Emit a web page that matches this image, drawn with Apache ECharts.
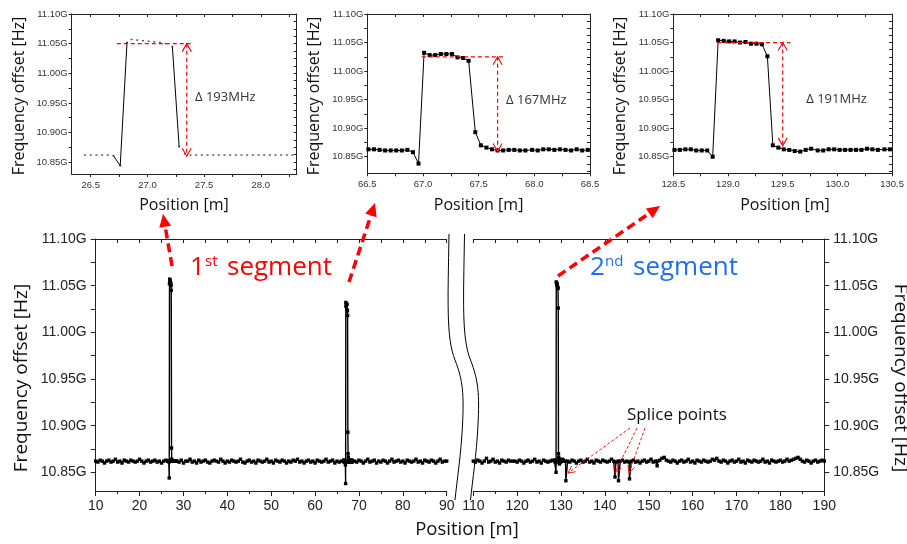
<!DOCTYPE html>
<html><head><meta charset="utf-8">
<script src="https://cdn.jsdelivr.net/npm/echarts@6/dist/echarts.min.js"></script>
<style>html,body{margin:0;padding:0;background:#fff}#c{width:907px;height:544px}</style>
</head><body><div id="c"></div><script>
// ---------------- DATA ----------------
// baseline runs of the main chart (GHz)
const base1Pos = [10,10.5,11,11.5,12,12.5,13,13.5,14,14.5,15,15.5,16,16.5,17,17.5,18,18.5,19,19.5,20,20.5,21,21.5,22,22.5,23,23.5,24,24.5,25,25.5,26];
const base1Val = [10.862,10.861,10.863,10.862,10.860,10.862,10.863,10.861,10.862,10.864,10.861,10.862,10.860,10.863,10.862,10.861,10.863,10.862,10.861,10.862,10.864,10.862,10.860,10.862,10.863,10.861,10.862,10.863,10.861,10.862,10.860,10.862,10.863];
const base2Pos = [28.5,29,29.5,30,30.5,31,31.5,32,32.5,33,33.5,34,34.5,35,35.5,36,36.5,37,37.5,38,38.5,39,39.5,40,40.5,41,41.5,42,42.5,43,43.5,44,44.5,45,45.5,46,46.5,47,47.5,48,48.5,49,49.5,50,50.5,51,51.5,52,52.5,53,53.5,54,54.5,55,55.5,56,56.5,57,57.5,58,58.5,59,59.5,60,60.5,61,61.5,62,62.5,63,63.5,64,64.5,65,65.5,66];
const base2Val = [10.862,10.861,10.863,10.860,10.862,10.862,10.864,10.861,10.862,10.860,10.863,10.861,10.862,10.863,10.861,10.860,10.862,10.863,10.862,10.861,
 10.864,10.862,10.860,10.862,10.861,10.863,10.862,10.861,10.862,10.864,10.861,10.860,10.862,10.863,10.861,10.862,10.860,10.863,10.862,10.861,
 10.862,10.864,10.861,10.862,10.860,10.863,10.862,10.861,10.863,10.862,10.860,10.862,10.861,10.863,10.862,10.864,10.861,10.862,10.860,10.862,
 10.863,10.861,10.862,10.860,10.863,10.862,10.861,10.862,10.864,10.861,10.862,10.863,10.860,10.862,10.861,10.862];
const base3Pos = [69,69.5,70,70.5,71,71.5,72,72.5,73,73.5,74,74.5,75,75.5,76,76.5,77,77.5,78,78.5,79,79.5,80,80.5,81,81.5,82,82.5,83,83.5,84,84.5,85,85.5,86,86.5,87,87.5,88,88.5,89,89.5,90];
const base3Val = [10.862,10.861,10.863,10.862,10.860,10.862,10.864,10.861,10.862,10.863,10.860,10.862,10.861,10.863,10.862,10.860,10.862,10.864,10.861,10.862,
 10.863,10.861,10.862,10.860,10.863,10.862,10.861,10.862,10.864,10.861,10.862,10.860,10.863,10.862,10.861,10.863,10.862,10.860,10.862,10.864,
 10.861,10.862,10.862];
const base4Pos = [110,110.5,111,111.5,112,112.5,113,113.5,114,114.5,115,115.5,116,116.5,117,117.5,118,118.5,119,119.5,120,120.5,121,121.5,122,122.5,123,123.5,124,124.5,125,125.5,126,126.5,127,127.5,128];
const base4Val = [10.862,10.861,10.863,10.862,10.860,10.862,10.865,10.861,10.862,10.864,10.861,10.862,10.860,10.863,10.862,10.861,10.863,10.862,10.862,10.862,
 10.861,10.863,10.862,10.860,10.862,10.863,10.861,10.862,10.864,10.861,10.862,10.860,10.863,10.862,10.861,10.862,10.863];
const base5Pos = [131,131.1,131.5,132,132.5,133,133.5,134,134.5,135,135.5,136,136.5,137,137.5,138,138.5,139,139.5,140,140.5,141,141.5,142,142.3,142.5,143,143.1,143.5,144,144.5,145,145.5,145.6,
 146,146.5,147,147.5,148,148.5,149,149.5,150,150.5,151,151.5,151.9,152,152.5,153,153.5,154,154.5,155,155.5,156,156.5,157,157.5,158,158.5,159,159.5,160,160.5,161,161.5,162,162.5,163,163.5,164,164.5,165,165.5,
 166,166.5,167,167.5,168,168.5,169,169.5,170,170.5,171,171.5,172,172.5,173,173.5,174,174.5,175,175.5,176,176.5,177,177.5,178,178.5,179,179.5,180,180.5,181,181.5,182,182.5,183,183.5,184,184.5,185,185.5,186,186.5,187,187.5,188,188.5,189,189.5,190];
const base5Val = [10.862,10.841,10.862,10.861,10.863,10.862,10.860,10.862,10.863,10.861,10.862,10.864,10.861,10.862,10.860,10.863,10.862,10.861,10.863,10.862,10.861,10.862,10.864,10.862,10.845,10.861,10.862,10.841,10.862,10.863,10.861,10.862,10.861,10.843,
 10.862,10.863,10.861,10.862,10.860,10.862,10.863,10.861,10.862,10.864,10.861,10.862,10.857,10.862,10.863,10.865,10.866,10.863,10.862,10.861,10.863,10.862,10.860,10.862,10.863,10.861,10.862,10.864,10.861,10.862,10.860,10.863,10.862,10.861,10.863,10.862,10.861,10.862,10.864,10.863,10.865,
 10.862,10.861,10.863,10.862,10.860,10.862,10.863,10.861,10.862,10.864,10.861,10.862,10.860,10.863,10.862,10.861,10.863,10.862,10.861,10.862,10.864,10.861,10.862,10.860,10.863,10.862,10.861,10.862,10.863,10.861,10.862,10.864,10.862,10.863,10.864,10.865,10.866,10.864,10.862,10.861,10.863,10.862,10.860,10.862,10.863,10.861,10.862,10.863,10.862];
// zoomed segments (inset data)
const spike1Pos = [26.45,26.50,26.55,26.60,26.65,26.70,26.76,26.82,26.86,26.91,26.96,27.01,27.06,27.11,27.16,27.22,27.28,27.33,27.38,27.43,27.48,27.53,27.58,27.63,27.68,27.73,27.78,27.83,27.88,27.93,27.98,28.03,28.08,28.13,28.18,28.23,28.28];
const spike1Val = [10.862,10.862,10.862,10.862,10.862,10.861,10.844,11.052,11.057,11.056,11.055,11.054,11.053,11.052,11.050,11.045,10.876,10.864,10.862,10.862,10.862,10.862,10.862,10.862,10.862,10.862,10.862,10.862,10.862,10.862,10.862,10.862,10.862,10.862,10.862,10.862,10.862];
const spike2Pos = [66.51,66.56,66.61,66.66,66.71,66.76,66.81,66.86,66.91,66.96,67.01,67.06,67.11,67.16,67.21,67.26,67.31,67.36,67.41,67.47,67.52,67.57,67.62,67.67,67.72,67.77,67.82,67.87,67.92,67.98,68.03,68.08,68.13,68.18,68.23,68.28,68.33,68.38,68.43,68.48];
const spike2Val = [10.863,10.863,10.862,10.861,10.861,10.861,10.861,10.862,10.858,10.838,11.032,11.028,11.028,11.030,11.030,11.030,11.024,11.023,11.018,10.893,10.870,10.866,10.863,10.861,10.861,10.862,10.862,10.861,10.861,10.862,10.861,10.863,10.863,10.862,10.863,10.862,10.861,10.863,10.861,10.862];
const spike3Pos = [128.51,128.56,128.61,128.66,128.71,128.76,128.81,128.86,128.91,128.96,129.01,129.06,129.11,129.16,129.21,129.26,129.31,129.36,129.41,129.46,129.51,129.56,129.61,129.66,129.71,129.76,129.82,129.87,129.92,129.97,130.02,130.07,130.12,130.17,130.22,130.27,130.32,130.37,130.43,130.48];
const spike3Val = [10.862,10.862,10.863,10.863,10.861,10.861,10.861,10.850,11.054,11.053,11.052,11.052,11.050,11.051,11.048,11.048,11.047,11.026,10.870,10.866,10.863,10.862,10.860,10.859,10.862,10.864,10.861,10.861,10.863,10.863,10.862,10.862,10.862,10.862,10.862,10.864,10.863,10.862,10.863,10.863];

// tick labels
const mainYLabels = [10.85,10.90,10.95,11.00,11.05,11.10];
const mainYTicks = [10.85,10.875,10.90,10.925,10.95,10.975,11.00,11.025,11.05,11.075,11.10];
const insYLabels = [10.85,10.90,10.95,11.00,11.05,11.10];
const insYTicks = [10.85,10.875,10.90,10.925,10.95,10.975,11.00,11.025,11.05,11.075,11.10];
const insYTicksR = [10.825,10.8375,10.85,10.8625,10.875,10.8875,10.90,10.9125,10.925,10.9375,10.95,10.9625,10.975,10.9875,11.00,11.0125,11.025,11.0375,11.05,11.0625,11.075,11.0875,11.10];
const ins1XLabels = [26.5,27.0,27.5,28.0];
const ins1XTicks = [26.5,26.75,27.0,27.25,27.5,27.75,28.0,28.25];
const ins2XLabels = [66.5,67.0,67.5,68.0,68.5];
const ins2XTicks = [66.5,66.75,67.0,67.25,67.5,67.75,68.0,68.25,68.5];
const ins3XLabels = [128.5,129.0,129.5,130.0,130.5];
const ins3XTicks = [128.5,128.75,129.0,129.25,129.5,129.75,130.0,130.25,130.5];

// annotations (data coordinates of each inset)
const deltaNotes = [
  {series:0, h:[[26.73,11.05],[27.41,11.05]], v:[[27.347,11.05],[27.347,10.86]], text:'Δ 193MHz', at:[27.42,10.96]},
  {series:2, h:[[66.99,11.025],[67.74,11.025]], v:[[67.67,11.025],[67.67,10.859]], text:'Δ 167MHz', at:[67.746,10.949]},
  {series:3, h:[[128.90,11.05],[129.57,11.05]], v:[[129.50,11.05],[129.50,10.869]], text:'Δ 191MHz', at:[129.715,10.951]}
];

// ---------------- CHART ----------------
const TF = '"Liberation Sans", Arial, sans-serif';
const HF = '"Open Sans", "Noto Sans", sans-serif';
const AX = '#222';
const pts = (p, v) => p.map((x, i) => [x, v[i]]);
const mainLeftData = [].concat(pts(base1Pos, base1Val), pts(spike1Pos, spike1Val), pts(base2Pos, base2Val), pts(spike2Pos, spike2Val), pts(base3Pos, base3Val));
const mainRightData = [].concat(pts(base4Pos, base4Val), pts(spike3Pos, spike3Val), pts(base5Pos, base5Val));
const steep1 = spike1Pos.map((x, i) => {
  const v = spike1Val[i];
  const a = i > 0 && Math.abs(v - spike1Val[i - 1]) > 0.015;
  const b = i < spike1Val.length - 1 && Math.abs(spike1Val[i + 1] - v) > 0.015;
  return (a || b) ? [x, v] : [x, '-'];
});

const fx1 = v => v.toFixed(1);
const fy = v => v.toFixed(2) + 'G';

function xPair(gi, min, max, labels, ticks, fs, margin, tl) {
  return [
    {type:'value', gridIndex:gi, position:'bottom', min, max,
     axisLine:{show:true, onZero:false, lineStyle:{color:AX, width:1}},
     axisTick:{show:true, inside:false, length:tl, customValues:ticks, lineStyle:{color:AX}},
     axisLabel:{customValues:labels, formatter:fx1, fontSize:fs, fontFamily:TF, color:'#333', margin},
     splitLine:{show:false}},
    {type:'value', gridIndex:gi, position:'top', min, max,
     axisLine:{show:true, onZero:false, lineStyle:{color:AX, width:1}},
     axisTick:{show:true, inside:true, length:tl, customValues:ticks, lineStyle:{color:AX}},
     axisLabel:{show:false}, splitLine:{show:false}}
  ];
}
function yPair(gi, min, max) {
  return [
    {type:'value', gridIndex:gi, position:'left', min, max,
     axisLine:{show:true, onZero:false, lineStyle:{color:AX, width:1}},
     axisTick:{show:true, inside:false, length:3, customValues:insYTicks, lineStyle:{color:AX}},
     axisLabel:{customValues:insYLabels, formatter:fy, fontSize:9.5, fontFamily:TF, color:'#333', margin:4},
     splitLine:{show:false}},
    {type:'value', gridIndex:gi, position:'right', min, max,
     axisLine:{show:true, onZero:false, lineStyle:{color:AX, width:1}},
     axisTick:{show:true, inside:true, length:3, customValues:insYTicksR.filter(t => t >= min), lineStyle:{color:AX}},
     axisLabel:{show:false}, splitLine:{show:false}}
  ];
}
function mainX(gi, min, max) {
  return [
    {type:'value', gridIndex:gi, position:'bottom', min, max, interval:10,
     axisLine:{show:true, onZero:false, lineStyle:{color:AX, width:1}},
     axisTick:{show:true, inside:false, length:5, lineStyle:{color:AX}},
     minorTick:{show:true, splitNumber:2, length:3, lineStyle:{color:AX}},
     axisLabel:{fontSize:14, fontFamily:TF, color:'#222', margin:8, showMinLabel:true, showMaxLabel:true},
     splitLine:{show:false}, minorSplitLine:{show:false}},
    {type:'value', gridIndex:gi, position:'top', min, max, interval:5,
     axisLine:{show:true, onZero:false, lineStyle:{color:AX, width:1}},
     axisTick:{show:true, inside:true, length:4, lineStyle:{color:AX}},
     axisLabel:{show:false}, splitLine:{show:false}}
  ];
}
function mainY(gi, pos) {
  return {type:'value', gridIndex:gi, position:pos, min:10.83, max:11.10,
    axisLine:{show:true, onZero:false, lineStyle:{color:AX, width:1}},
    axisTick:{show:true, inside:false, length:5, customValues:mainYTicks, lineStyle:{color:AX}},
    axisLabel:{customValues:mainYLabels, formatter:fy, fontSize:14, fontFamily:TF, color:'#222', margin:9},
    splitLine:{show:false}};
}

const option = {
  animation:false,
  backgroundColor:'#fff',
  grid:[
    {left:71.7, top:14, width:225, height:160},
    {left:367.3, top:14, width:222.7, height:159.3},
    {left:673.3, top:14, width:223.4, height:159.3},
    {left:95.7, top:239, width:351, height:252},
    {left:473.3, top:239, width:351, height:252}
  ],
  xAxis:[].concat(
    xPair(0, 26.332, 28.317, ins1XLabels, ins1XTicks, 9.5, 6, 3),
    xPair(1, 66.5, 68.5, ins2XLabels, ins2XTicks, 9.5, 6, 3),
    xPair(2, 128.5, 130.5, ins3XLabels, ins3XTicks, 9.5, 6, 3),
    mainX(3, 10, 90),
    mainX(4, 110, 190)
  ),
  yAxis:[].concat(
    yPair(0, 10.83, 11.10),
    yPair(1, 10.821, 11.10),
    yPair(2, 10.821, 11.10),
    [mainY(3, 'left'), mainY(4, 'right')]
  ),
  series:[
    {type:'scatter', xAxisIndex:0, yAxisIndex:0, symbol:'rect', symbolSize:[2,1.4], itemStyle:{color:'#222'}, data:pts(spike1Pos, spike1Val), silent:true, clip:true},
    {type:'line', xAxisIndex:0, yAxisIndex:0, symbol:'none', lineStyle:{color:'#000', width:1}, data:steep1, connectNulls:false, silent:true, clip:true},
    {type:'line', xAxisIndex:2, yAxisIndex:2, symbol:'rect', symbolSize:4, showAllSymbol:true, lineStyle:{color:'#000', width:1}, itemStyle:{color:'#000'}, data:pts(spike2Pos, spike2Val), silent:true, clip:true},
    {type:'line', xAxisIndex:4, yAxisIndex:4, symbol:'rect', symbolSize:4, showAllSymbol:true, lineStyle:{color:'#000', width:1}, itemStyle:{color:'#000'}, data:pts(spike3Pos, spike3Val), silent:true, clip:true},
    {type:'line', xAxisIndex:6, yAxisIndex:6, symbol:'rect', symbolSize:3.4, showAllSymbol:true, lineStyle:{color:'#000', width:1.4}, itemStyle:{color:'#000'}, data:mainLeftData, silent:true},
    {type:'line', xAxisIndex:8, yAxisIndex:7, symbol:'rect', symbolSize:3.4, showAllSymbol:true, lineStyle:{color:'#000', width:1.4}, itemStyle:{color:'#000'}, data:mainRightData, silent:true}
  ]
};

const chart = echarts.init(document.getElementById('c'));
chart.setOption(option);

// ---------------- DECORATIONS ----------------
const G = [];
function txt(x, y, text, size, o) {
  o = o || {};
  G.push({type:'text', x, y, rotation:o.rot || 0, z:100, silent:true,
    style:{text, fontSize:size, fontFamily:o.font || HF, fill:o.color || '#111',
      align:o.align || 'center', verticalAlign:o.va || 'middle',
      textAlign:o.align || 'center', textVerticalAlign:o.va || 'middle'}});
}
function line(pts2, w, dash, color) {
  G.push({type:'polyline', z:100, silent:true, shape:{points:pts2},
    style:{stroke:color || '#f00', lineWidth:w, lineDash:dash || null, fill:null}});
}
function vHead(tail, tip, len, half, w, color) {
  const dx = tip[0] - tail[0], dy = tip[1] - tail[1], L = Math.hypot(dx, dy);
  const ux = dx / L, uy = dy / L, px = -uy, py = ux;
  const bx = tip[0] - ux * len, by = tip[1] - uy * len;
  line([[bx + px * half, by + py * half], tip, [bx - px * half, by - py * half]], w, null, color);
}
function fHead(tail, tip, len, half, color) {
  const dx = tip[0] - tail[0], dy = tip[1] - tail[1], L = Math.hypot(dx, dy);
  const ux = dx / L, uy = dy / L, px = -uy, py = ux;
  const bx = tip[0] - ux * len, by = tip[1] - uy * len;
  G.push({type:'polygon', z:100, silent:true, shape:{points:[[bx + px * half, by + py * half], tip, [bx - px * half, by - py * half]]}, style:{fill:color}});
}

// inset delta annotations
deltaNotes.forEach(n => {
  const cv = p => chart.convertToPixel({seriesIndex:n.series}, p);
  line(n.h.map(cv), 1.2, [4, 3], '#f00');
  const a = cv(n.v[0]), b = cv(n.v[1]);
  line([a, b], 1.2, [4, 3], '#f00');
  vHead(b, a, 8, 4.5, 1.1, '#f00');
  vHead(a, b, 8, 4.5, 1.1, '#f00');
  const t = cv(n.at);
  txt(t[0], t[1], n.text, 13, {align:'left', color:'#333'});
});

// big arrows to insets
[[[172,266],[163,214]], [[349,282],[375,203]], [[558,276],[660,206]]].forEach(([a, b]) => {
  const dx = b[0] - a[0], dy = b[1] - a[1], L = Math.hypot(dx, dy);
  const e = [b[0] - dx / L * 10, b[1] - dy / L * 10];
  line([a, e], 3.5, [9, 5], '#f00');
  fHead(a, b, 13, 6, '#f00');
});

// splice-point arrows
[[[630,428],[568,473]], [[637,428],[615,473]], [[645,428],[629,473]]].forEach(([a, b]) => {
  line([a, b], 0.9, [3, 2], '#f00');
  vHead(a, b, 7, 3.5, 0.9, '#f00');
});

// axis break marks
[0, 15.5].forEach(off => {
  G.push({type:'bezierCurve', z:100, silent:true, shape:{x1:449 + off, y1:234, cpx1:448 + off, cpy1:300, cpx2:446 + off, cpy2:338, x2:455 + off, y2:360}, style:{stroke:'#000', lineWidth:1, fill:null}});
  G.push({type:'bezierCurve', z:100, silent:true, shape:{x1:455 + off, y1:360, cpx1:463 + off, cpy1:380, cpx2:464 + off, cpy2:395, x2:462.5 + off, y2:425}, style:{stroke:'#000', lineWidth:1, fill:null}});
  G.push({type:'bezierCurve', z:100, silent:true, shape:{x1:462.5 + off, y1:425, cpx1:461 + off, cpy1:455, cpx2:457 + off, cpy2:480, x2:455 + off, y2:500}, style:{stroke:'#000', lineWidth:1, fill:null}});
});

// titles
txt(22, 378, 'Frequency offset [Hz]', 19, {rot:Math.PI / 2});
txt(900, 378, 'Frequency offset [Hz]', 19, {rot:-Math.PI / 2});
txt(467, 530, 'Position [m]', 18.5);
[[19, 184], [314.5, 478.6], [620.5, 785]].forEach(([yx, xx]) => {
  txt(yx, 96, 'Frequency offset [Hz]', 16, {rot:Math.PI / 2});
  txt(xx, 205, 'Position [m]', 16);
});

// segment labels
txt(190, 268, '1', 26, {align:'left', color:'#f00'});
txt(205, 262, 'st', 15, {align:'left', color:'#f00'});
txt(227, 268, 'segment', 26, {align:'left', color:'#f00'});
txt(590, 268, '2', 26, {align:'left', color:'#1e6ff0'});
txt(605, 262, 'nd', 15, {align:'left', color:'#1e6ff0'});
txt(633, 268, 'segment', 26, {align:'left', color:'#1e6ff0'});
txt(627, 415, 'Splice points', 17, {align:'left', color:'#111'});

chart.setOption({graphic:{elements:G}});
</script></body></html>
